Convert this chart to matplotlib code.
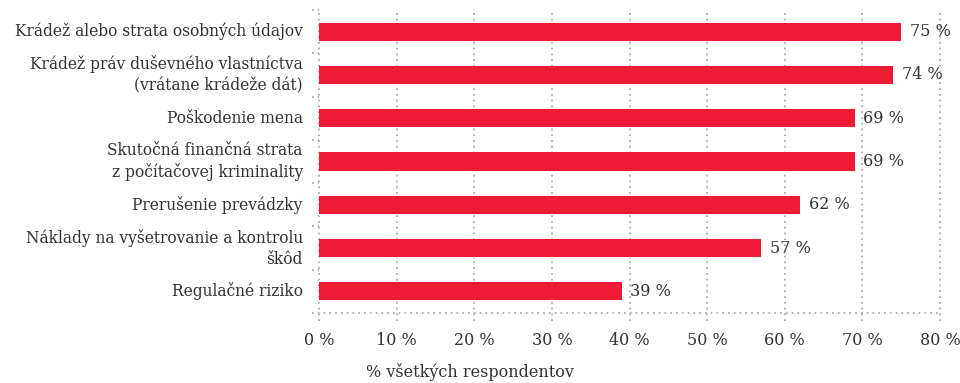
import matplotlib
matplotlib.use("Agg")
import matplotlib.pyplot as plt
import numpy as np

# Categories (top to bottom) and share of respondents in %
categories = [
    "Krádež alebo strata osobných údajov",
    "Krádež práv duševného vlastníctva\n(vrátane krádeže dát)",
    "Poškodenie mena",
    "Skutočná finančná strata\nz počítačovej kriminality",
    "Prerušenie prevádzky",
    "Náklady na vyšetrovanie a kontrolu\nškôd",
    "Regulačné riziko",
]
values = [75, 74, 69, 69, 62, 57, 39]
x_ticks = [0, 10, 20, 30, 40, 50, 60, 70, 80]
x_label = "% všetkých respondentov"

bar_color = "#ED1B36"
grid_color = "#B3AAA3"
text_color = "#333333"

plt.rcParams["font.family"] = ["DejaVu Serif"]

fig = plt.figure(figsize=(9.6, 3.83), dpi=100)
ax = fig.add_axes([0.3323, 0.1828, 0.6469, 0.7911])

n = len(categories)
y = np.arange(n)
ax.barh(y, values, height=0.42, color=bar_color, zorder=3)
ax.set_ylim(n - 0.5, -0.5)
ax.set_xlim(0, 80)

for s in ax.spines.values():
    s.set_visible(False)
ax.set_yticks([])
ax.set_xticks(x_ticks)
ax.set_xticklabels([f"{t} %" for t in x_ticks], fontsize=11.5, color=text_color)
ax.tick_params(axis="x", length=0, pad=14)

# dotted vertical grid, running a little below the bottom line
trans = ax.get_xaxis_transform()
dot = (0, (1, 2.2))
for t in x_ticks:
    ax.plot([t, t], [-0.025, 1.0], transform=trans, color=grid_color,
            lw=1.3, ls=dot, clip_on=False, zorder=1)

# bottom line and short ticks between categories on the left
ytrans = ax.get_yaxis_transform()
ax.plot([-0.012, 1.0], [n - 0.5, n - 0.5], transform=ytrans, color=grid_color,
        lw=1.3, ls=dot, clip_on=False, zorder=1)
for b in np.arange(-0.5, n - 0.5, 1.0):
    ax.plot([-0.012, 0], [b, b], transform=ytrans, color=grid_color,
            lw=1.3, ls=dot, clip_on=False, zorder=1)

# category labels
for yi, lab in zip(y, categories):
    ax.text(-0.026, yi, lab, transform=ytrans, ha="right", va="center",
            fontsize=11.2, color=text_color, linespacing=1.3)

# value labels
for yi, v in zip(y, values):
    ax.text(v + 1.1, yi, f"{v} %", ha="left", va="center",
            fontsize=11.5, color=text_color)

fig.text(0.49, 0.03, x_label, ha="center", va="center",
         fontsize=11.5, color=text_color)

fig.savefig("out.png", dpi=100, facecolor="white")
